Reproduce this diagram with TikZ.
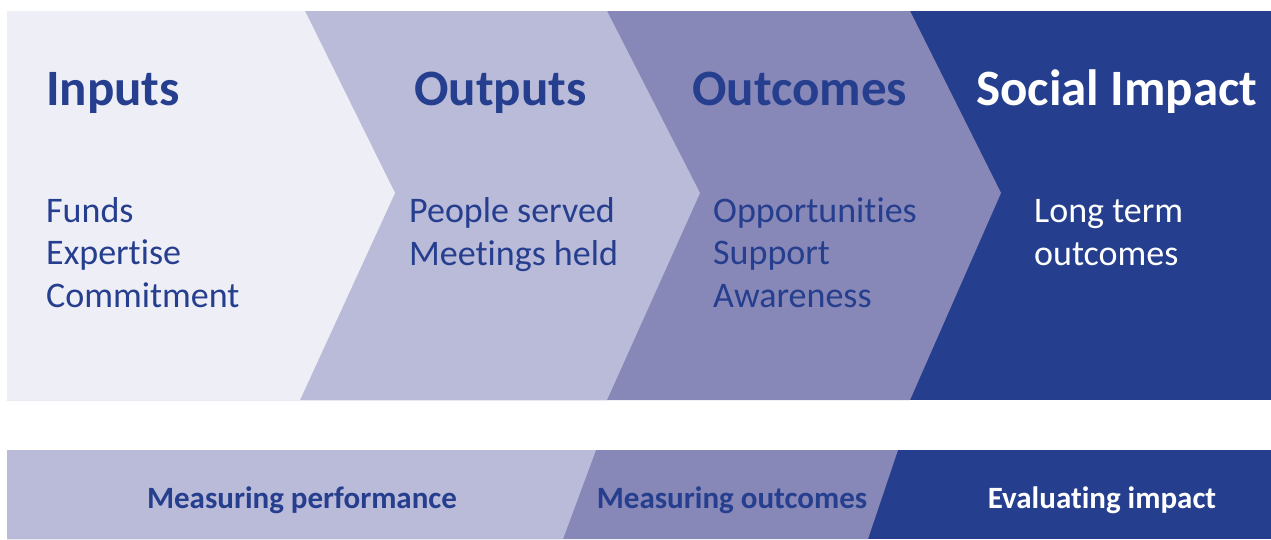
\documentclass[tikz,border=0pt]{standalone}
\usepackage{fontspec}
\setmainfont{Carlito}[Ligatures=NoCommon]
\usepackage{tikz}
\definecolor{paleblue}{HTML}{EEEEF7}
\definecolor{lightblue}{HTML}{BABAD9}
\definecolor{midblue}{HTML}{8787B8}
\definecolor{darkblue}{HTML}{253E8E}
\tikzset{
	heading/.style={anchor=base west, inner sep=0, text=darkblue, font=\fontsize{51}{60}\selectfont\bfseries},
	itemlist/.style={anchor=base west, inner sep=0, align=left, text=darkblue, font=\fontsize{36}{42.5}\selectfont},
	bandlabel/.style={anchor=base, inner sep=0, text=darkblue, font=\fontsize{31}{36}\selectfont\bfseries}
}

\begin{document}
\begin{tikzpicture}[x=1pt, y=-1pt]
		%%%%% START %%%%%
		\useasboundingbox (0, 0) rectangle (1271, 539);
		
		% chevrons
		\draw[draw=none, fill=darkblue] (7, 11) rectangle (1271, 400);
		\draw[draw=none, fill=midblue] (7, 11) -- (910, 11) -- (1001, 193) -- (910, 400) -- (7, 400) -- cycle;
		\draw[draw=none, fill=lightblue] (7, 11) -- (607, 11) -- (700, 193) -- (607, 400) -- (7, 400) -- cycle;
		\draw[draw=none, fill=paleblue] (7, 11) -- (305, 11) -- (395, 193) -- (300, 400) -- (7, 400) -- cycle;
		
		\node[heading] (inputs) at (46, 105) {Inputs};
		\node[heading] (outputs) at (414, 105) {Outputs};
		\node[heading] (outcomes) at (692, 105) {Outcomes};
		\node[heading, text=white] (impact) at (976, 105) {Social Impact};
		
		% base of a list node is its last line
		\node[itemlist] (inlist) at (46, 307) {Funds\\Expertise\\Commitment};
		\node[itemlist] (outlist) at (409, 265) {People served\\Meetings held};
		\node[itemlist] (outclist) at (713, 307) {Opportunities\\Support\\Awareness};
		\node[itemlist, text=white] (implist) at (1034, 265) {Long term\\outcomes};
		
		% bottom band
		\draw[draw=none, fill=darkblue] (7, 450) rectangle (1271, 539);
		\draw[draw=none, fill=midblue] (7, 450) -- (898, 450) -- (868, 539) -- (7, 539) -- cycle;
		\draw[draw=none, fill=lightblue] (7, 450) -- (596, 450) -- (563, 539) -- (7, 539) -- cycle;
		
		\node[bandlabel] (performance) at (302, 508) {Measuring performance};
		\node[bandlabel] (measuring) at (732, 508) {Measuring outcomes};
		\node[bandlabel, text=white] (evaluating) at (1102, 508) {Evaluating impact};
		
		%%%%% END %%%%%
	\end{tikzpicture}
\end{document}
